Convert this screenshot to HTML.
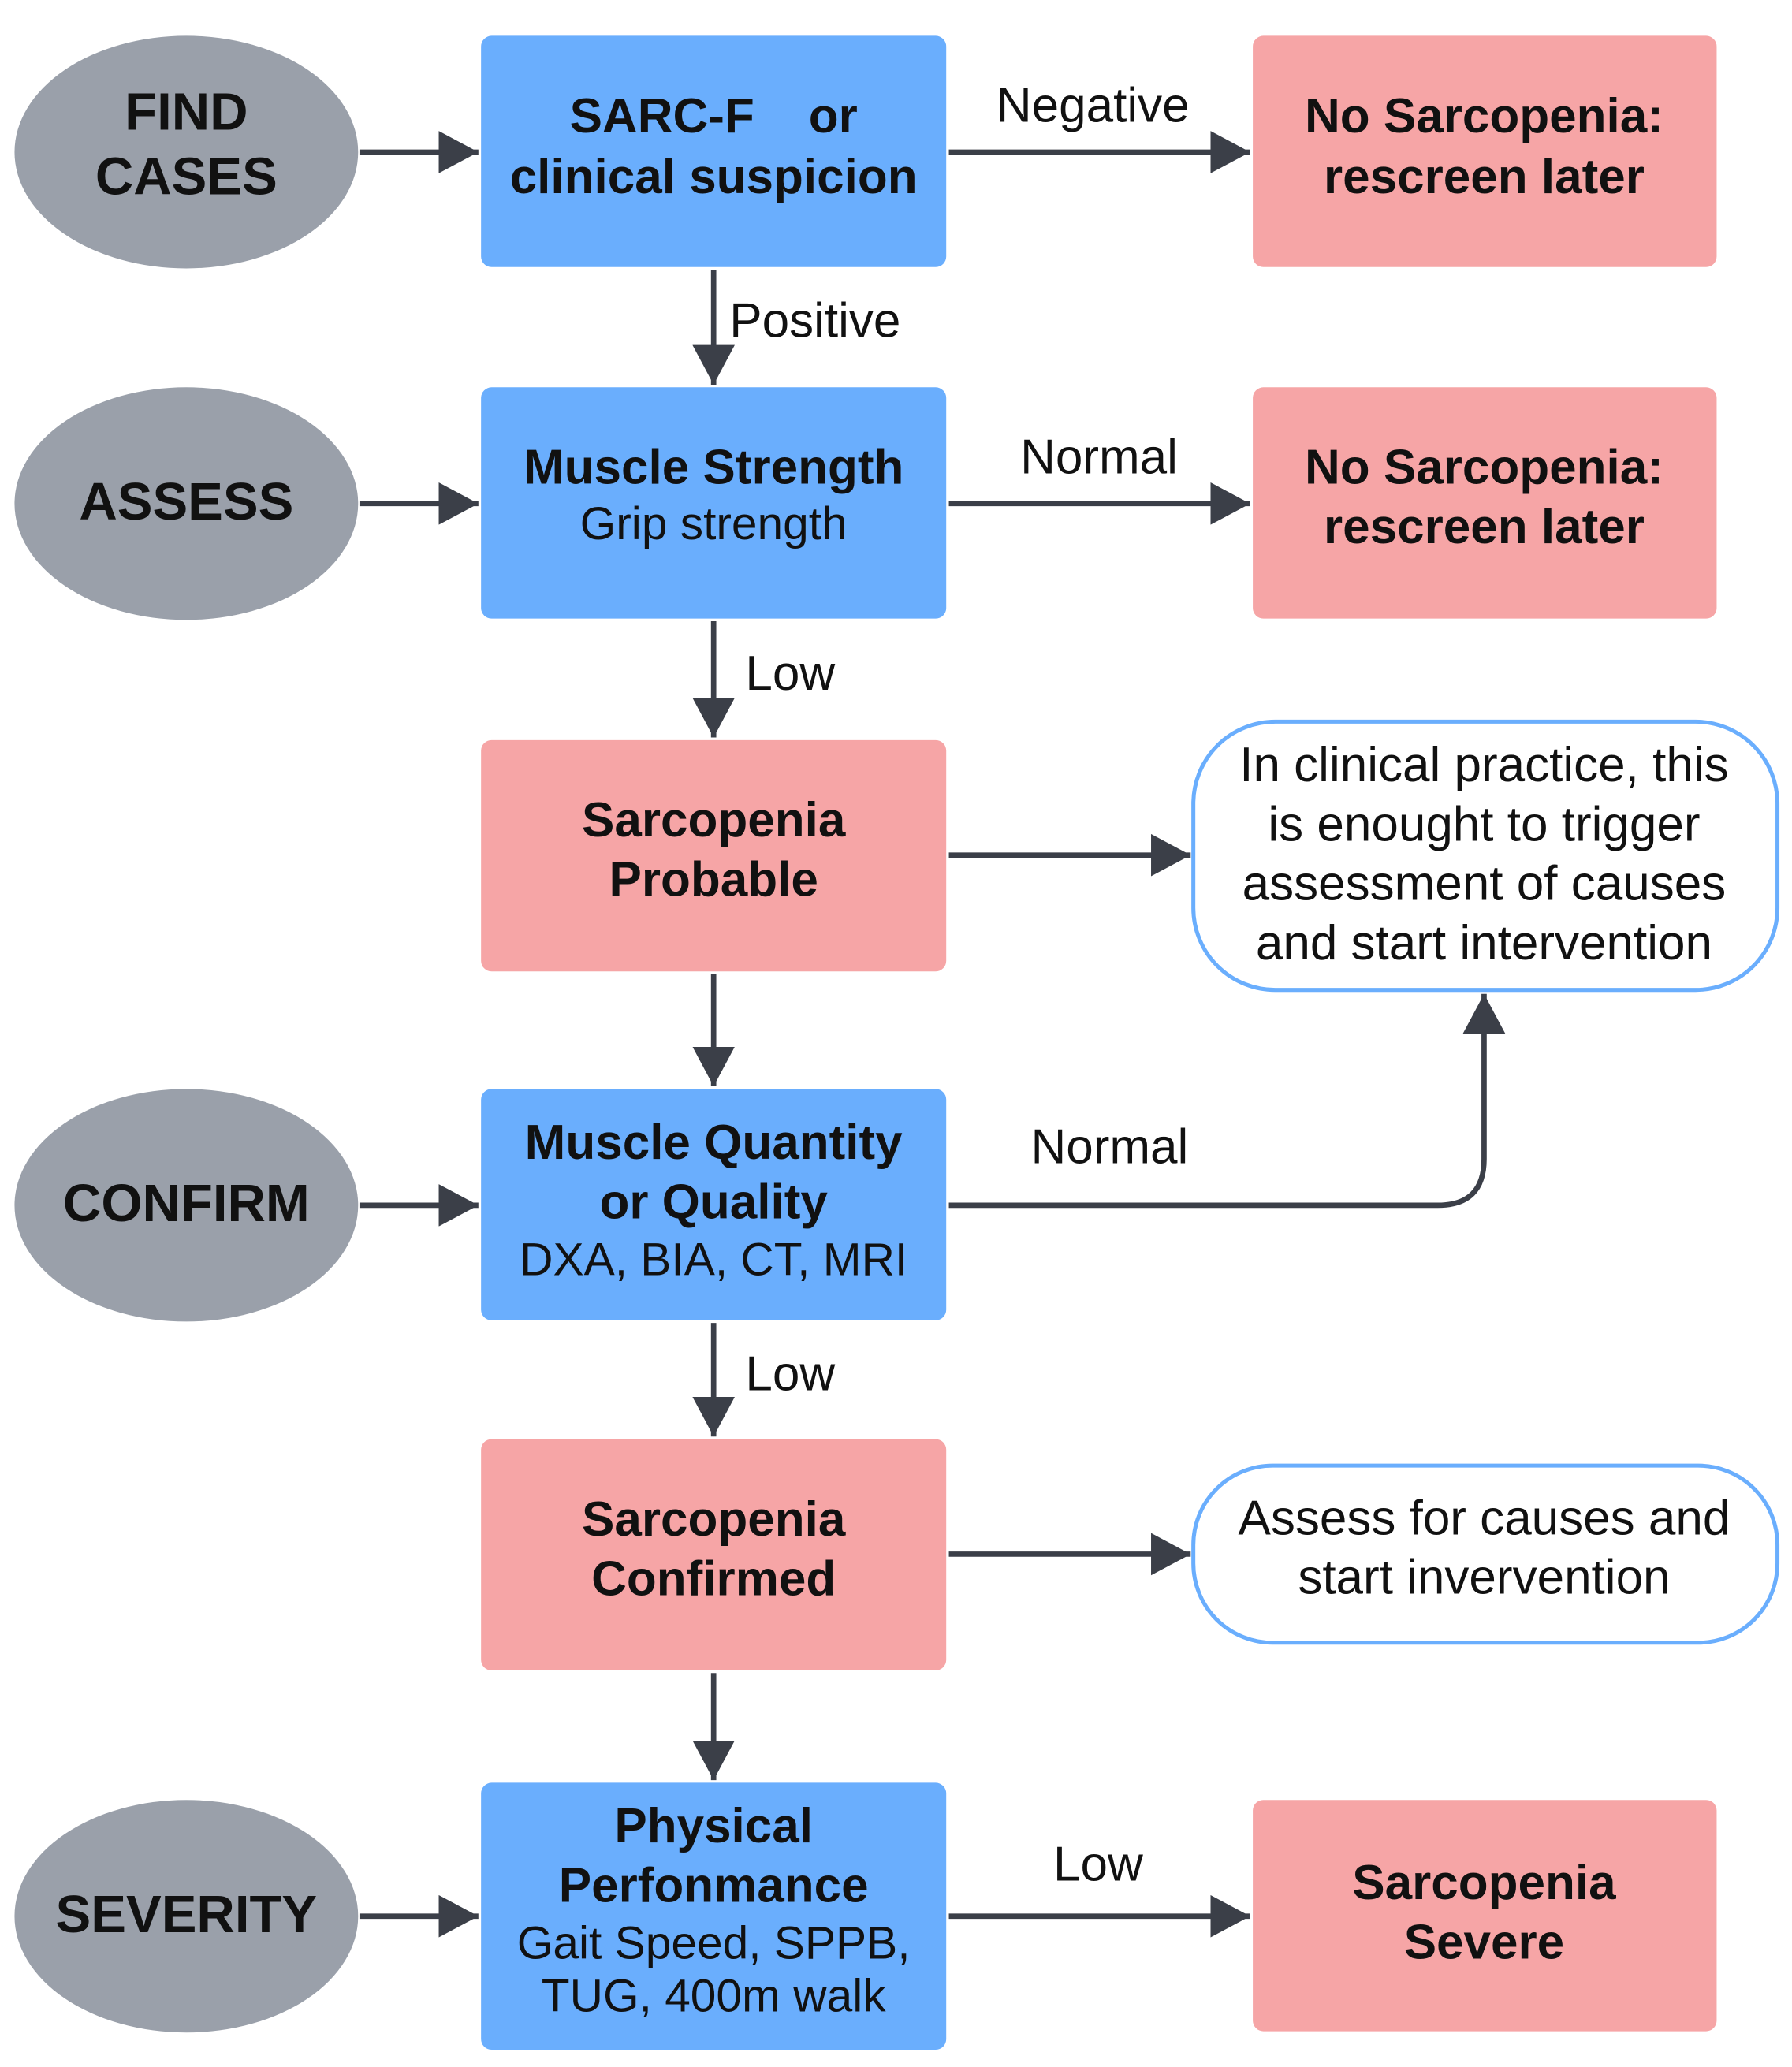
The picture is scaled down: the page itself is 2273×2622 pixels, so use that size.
<!DOCTYPE html>
<html><head><meta charset="utf-8"><style>html,body{margin:0;padding:0;background:#fff}svg{display:block}svg text{font-family:"Liberation Sans",Arial,sans-serif}</style></head><body>
<svg width="2273" height="2622" viewBox="0 0 1356 1564" xmlns="http://www.w3.org/2000/svg">
<defs><marker id="b" markerWidth="30" markerHeight="32" refX="30" refY="16" orient="auto" markerUnits="userSpaceOnUse"><path d="M0,0 L30,16 L0,32 z" fill="#3b3f48"/></marker></defs>
<g fill="#9aa0aa">
<ellipse cx="141" cy="115" rx="130" ry="88"/><ellipse cx="141" cy="381" rx="130" ry="88"/>
<ellipse cx="141" cy="912" rx="130" ry="88"/><ellipse cx="141" cy="1450" rx="130" ry="88"/></g>
<g fill="#6aaefd"><rect x="364" y="27" width="352" height="175" rx="8"/><rect x="364" y="293" width="352" height="175" rx="8"/>
<rect x="364" y="824" width="352" height="175" rx="8"/><rect x="364" y="1349" width="352" height="202" rx="8"/></g>
<g fill="#f6a5a6"><rect x="364" y="560" width="352" height="175" rx="8"/><rect x="364" y="1089" width="352" height="175" rx="8"/>
<rect x="948" y="27" width="351" height="175" rx="8"/><rect x="948" y="293" width="351" height="175" rx="8"/><rect x="948" y="1362" width="351" height="175" rx="8"/></g>
<g fill="#fff" stroke="#6aaefd" stroke-width="3"><rect x="903" y="546" width="442" height="203" rx="62"/><rect x="903" y="1109" width="442" height="134" rx="60"/></g>
<g stroke="#3b3f48" stroke-width="4" fill="none" marker-end="url(#b)">
<line x1="272" y1="115" x2="362" y2="115"/><line x1="272" y1="381" x2="362" y2="381"/>
<line x1="272" y1="912" x2="362" y2="912"/><line x1="272" y1="1450" x2="362" y2="1450"/>
<line x1="718" y1="115" x2="946" y2="115"/><line x1="718" y1="381" x2="946" y2="381"/>
<line x1="718" y1="1450" x2="946" y2="1450"/>
<line x1="718" y1="647" x2="901" y2="647"/><line x1="718" y1="1176" x2="901" y2="1176"/>
<line x1="540" y1="204" x2="540" y2="291"/><line x1="540" y1="470" x2="540" y2="558"/>
<line x1="540" y1="737" x2="540" y2="822"/><line x1="540" y1="1001" x2="540" y2="1087"/>
<line x1="540" y1="1266" x2="540" y2="1347"/>
<path d="M718,912 H1088 Q1123,912 1123,877 V752"/></g>
<g font-weight="bold" font-size="40" fill="#111" text-anchor="middle">
<text x="141" y="98">FIND</text><text x="141" y="147">CASES</text>
<text x="141" y="393">ASSESS</text><text x="141" y="924">CONFIRM</text><text x="141" y="1462">SEVERITY</text></g>
<g font-weight="bold" font-size="37" fill="#111" text-anchor="middle">
<text x="540" y="100" xml:space="preserve">SARC-F    or</text><text x="540" y="146">clinical suspicion</text>
<text x="540" y="366">Muscle Strength</text>
<text x="540" y="633">Sarcopenia</text><text x="540" y="678">Probable</text>
<text x="540" y="877">Muscle Quantity</text><text x="540" y="922">or Quality</text>
<text x="540" y="1162">Sarcopenia</text><text x="540" y="1207">Confirmed</text>
<text x="540" y="1394">Physical</text><text x="540" y="1439">Perfonmance</text>
<text x="1123" y="100">No Sarcopenia:</text><text x="1123" y="146">rescreen later</text>
<text x="1123" y="366">No Sarcopenia:</text><text x="1123" y="411">rescreen later</text>
<text x="1123" y="1437">Sarcopenia</text><text x="1123" y="1482">Severe</text></g>
<g font-size="35" fill="#111" text-anchor="middle">
<text x="540" y="408">Grip strength</text><text x="540" y="965">DXA, BIA, CT, MRI</text>
<text x="540" y="1482">Gait Speed, SPPB,</text><text x="540" y="1522">TUG, 400m walk</text>
<text x="1123" y="591" font-size="37">In clinical practice, this</text><text x="1123" y="636" font-size="37">is enought to trigger</text>
<text x="1123" y="681" font-size="37">assessment of causes</text><text x="1123" y="726" font-size="37">and start intervention</text>
<text x="1123" y="1161" font-size="37">Assess for causes and</text><text x="1123" y="1206" font-size="37">start invervention</text></g>
<g font-size="37" fill="#111">
<text x="754" y="92">Negative</text><text x="552" y="255">Positive</text>
<text x="772" y="358">Normal</text><text x="564" y="522">Low</text>
<text x="780" y="880">Normal</text><text x="564" y="1052">Low</text><text x="797" y="1423">Low</text></g>
</svg>
</body></html>
